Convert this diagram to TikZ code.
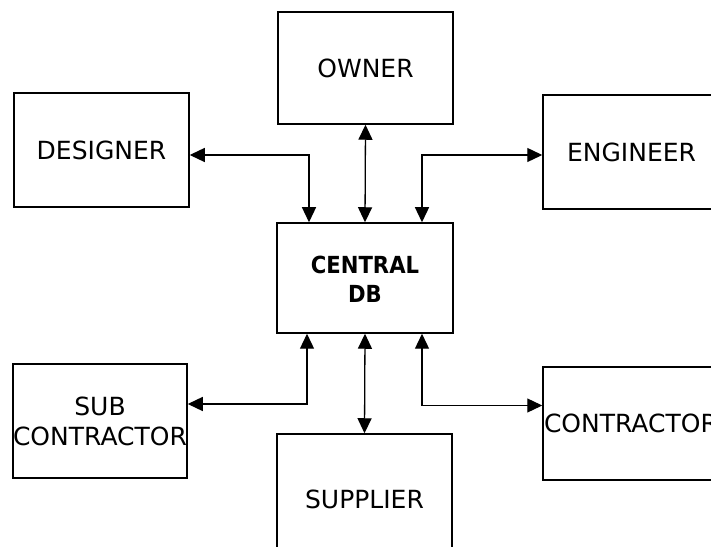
\documentclass[tikz,border=0pt]{standalone}
\usepackage{fontspec}
\setmainfont{DejaVu Sans}
\newfontfamily\condbold{DejaVu Sans Condensed}[BoldFont={* Bold}]
\usetikzlibrary{arrows.meta}
\tikzset{
  x=1pt,y=1pt,
  box/.style={draw, line width=1.5pt, inner sep=0pt, align=center,
    font=\fontsize{25}{30}\selectfont},
  link/.style={line width=1.3pt, {Triangle[length=15pt,width=14pt]}-{Triangle[length=15pt,width=14pt]}}
}
\begin{document}
\begin{tikzpicture}
\useasboundingbox (0,0) rectangle (711,546);
\clip (0,0) rectangle (711,546);
\fill[white] (0,0) rectangle (711,546);
\node[box, minimum width=175, minimum height=112] (owner) at (365.5,478) {OWNER};
\node[box, minimum width=175, minimum height=114] (designer) at (101.5,396) {DESIGNER};
\node[box, minimum width=177, minimum height=114] (engineer) at (631.5,394) {ENGINEER};
\node[box, minimum width=176, minimum height=110, font=\condbold\bfseries\fontsize{23.5}{29}\selectfont] (central) at (365,268) {\raisebox{-4pt}[\height][\depth]{\begin{tabular}{@{}c@{}}CENTRAL\\DB\end{tabular}}};
\node[box, minimum width=174, minimum height=114] (sub) at (100,125) {SUB\\CONTRACTOR};
\node[box, minimum width=175, minimum height=130] (supplier) at (364.5,47) {SUPPLIER};
\node[box, minimum width=177, minimum height=113, text width=173, align=left] (contractor) at (631.5,122.5) {\hspace*{-1pt}CONTRACTOR};
\draw[link] ([yshift=-5]designer.east) -| ([xshift=-56]central.north);
\draw[link] (owner.south) -- (central.north);
\draw[link] ([xshift=57]central.north) |- ([yshift=-3]engineer.west);
\draw[link] ([xshift=-58]central.south) |- ([yshift=17]sub.east);
\draw[link] (central.south) -- (supplier.north);
\draw[link] ([xshift=57]central.south) |- ([yshift=18]contractor.west);
\end{tikzpicture}
\end{document}
